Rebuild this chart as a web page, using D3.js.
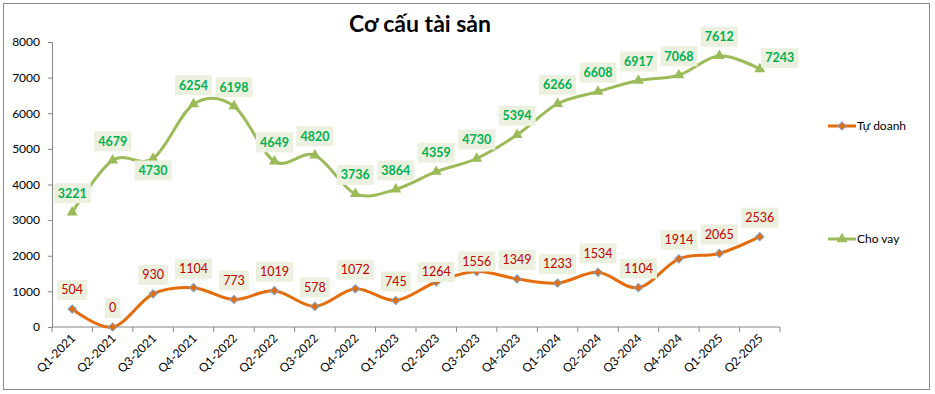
<!DOCTYPE html>
<html>
<head>
<meta charset="utf-8">
<script src="https://cdn.jsdelivr.net/npm/d3@7"></script>
<style>
  body { margin: 0; background: #fff; }
  svg { display: block; font-family: "Lato", "Liberation Sans", sans-serif; }
</style>
</head>
<body>
<svg id="chart" width="935" height="394"></svg>
<script>
//chart data
const quarters = ["Q1-2021", "Q2-2021", "Q3-2021", "Q4-2021", "Q1-2022", "Q2-2022", "Q3-2022", "Q4-2022",
    "Q1-2023", "Q2-2023", "Q3-2023", "Q4-2023", "Q1-2024", "Q2-2024", "Q3-2024", "Q4-2024", "Q1-2025", "Q2-2025"];
const tuDoanh = [504, 0, 930, 1104, 773, 1019, 578, 1072, 745, 1264, 1556, 1349, 1233, 1534, 1104, 1914, 2065, 2536];
const choVay = [3221, 4679, 4730, 6254, 6198, 4649, 4820, 3736, 3864, 4359, 4730, 5394, 6266, 6608, 6917, 7068, 7612, 7243];
const yTicks = [0, 1000, 2000, 3000, 4000, 5000, 6000, 7000, 8000];
const seriesNames = ["Tự doanh", "Cho vay"];

//where each data label sits relative to its point
const tuDoanhLabelPos = ["t", "t", "t", "t", "t", "t", "t", "t", "t", "n", "n", "t", "t", "t", "t", "t", "t", "t"];
const choVayLabelPos = ["t", "t", "b", "t", "t", "t", "t", "t", "t", "t", "t", "t", "t", "t", "t", "t", "t", "r"];

//plot area
const plot = { left: 52, right: 780, top: 42, bottom: 327 };

const svg = d3.select("#chart");

//outer frame
svg.append("rect")
    .attr("x", 3.5).attr("y", 3.5)
    .attr("width", 926).attr("height", 386)
    .attr("fill", "#fff")
    .attr("stroke", "#8c8c8c");

//title
svg.append("text")
    .attr("x", 420).attr("y", 32)
    .attr("text-anchor", "middle")
    .attr("font-size", 23)
    .attr("font-weight", "bold")
    .attr("fill", "#000")
    .text("Cơ cấu tài sản");

const x = d3.scaleBand()
    .domain(quarters)
    .range([plot.left, plot.right]);
const y = d3.scaleLinear()
    .domain([0, 8000])
    .range([plot.bottom, plot.top]);
const cx = d => x(d) + x.bandwidth() / 2;

//y axis
const yAxis = svg.append("g")
    .attr("transform", `translate(${plot.left},0)`)
    .call(d3.axisLeft(y).tickValues(yTicks).tickSize(4).tickPadding(8).tickFormat(d3.format("d")));
yAxis.selectAll("text").attr("font-size", 12).attr("fill", "#000").attr("font-family", "Lato, sans-serif");
yAxis.selectAll("line, path").attr("stroke", "#868686");

//x axis, ticks between categories
const xAxis = svg.append("g")
    .attr("transform", `translate(0,${plot.bottom})`);
xAxis.append("line")
    .attr("x1", plot.left).attr("x2", plot.right)
    .attr("stroke", "#868686");
xAxis.selectAll(".tk")
    .data(d3.range(quarters.length + 1))
    .join("line")
    .attr("x1", i => plot.left + i * x.bandwidth())
    .attr("x2", i => plot.left + i * x.bandwidth())
    .attr("y1", 0).attr("y2", 5)
    .attr("stroke", "#868686");
xAxis.selectAll(".lbl")
    .data(quarters)
    .join("text")
    .attr("transform", d => `translate(${cx(d) + 4},${12}) rotate(-45)`)
    .attr("text-anchor", "end")
    .attr("font-size", 12)
    .attr("fill", "#000")
    .text(d => d);

const line = d3.line()
    .x((d, i) => cx(quarters[i]))
    .y(d => y(d))
    .curve(d3.curveCatmullRom.alpha(0));

//lines
svg.append("path")
    .datum(choVay)
    .attr("d", line)
    .attr("fill", "none")
    .attr("stroke", "#9bbb59")
    .attr("stroke-width", 3);
svg.append("path")
    .datum(tuDoanh)
    .attr("d", line)
    .attr("fill", "none")
    .attr("stroke", "#e46c0a")
    .attr("stroke-width", 3);

//markers (diamond = square turned 45 degrees)
const tri = d3.symbol().type(d3.symbolTriangle).size(52);
const dia = d3.symbol().type(d3.symbolSquare).size(34);
svg.selectAll(".cv")
    .data(choVay)
    .join("path")
    .attr("transform", (d, i) => `translate(${cx(quarters[i])},${y(d)})`)
    .attr("d", tri)
    .attr("fill", "#9bbb59");
svg.selectAll(".td")
    .data(tuDoanh)
    .join("path")
    .attr("transform", (d, i) => `translate(${cx(quarters[i])},${y(d)}) rotate(45)`)
    .attr("d", dia)
    .attr("fill", "#e46c0a")
    .attr("stroke", "#7f9fc9")
    .attr("stroke-width", 1);

//data labels with boxes
function addLabels(values, pos, color, weight) {
    const g = svg.append("g");
    values.forEach((v, i) => {
        let lx = cx(quarters[i]), ly = y(v) - 19;
        if (pos[i] === "b") ly = y(v) + 12;
        if (pos[i] === "n") ly = y(v) - 10;
        if (pos[i] === "r") { lx += 20; ly = y(v) - 11; }
        const lg = g.append("g").attr("transform", `translate(${lx},${ly})`);
        const t = lg.append("text")
            .attr("text-anchor", "middle")
            .attr("dy", "0.35em")
            .attr("font-size", 12.5)
            .attr("font-weight", weight)
            .attr("fill", color)
            .text(v);
        const w = t.node().getComputedTextLength() + 8;
        lg.insert("rect", "text")
            .attr("x", -w / 2).attr("y", -10)
            .attr("width", w).attr("height", 20)
            .attr("fill", "#ebf1de");
    });
}
addLabels(choVay, choVayLabelPos, "#00b050", "bold");
addLabels(tuDoanh, tuDoanhLabelPos, "#c00000", "normal");

//legend
const legend = svg.append("g");
const legendY = [126, 239];
const legendColors = ["#e46c0a", "#9bbb59"];
seriesNames.forEach((name, i) => {
    const lg = legend.append("g").attr("transform", `translate(828,${legendY[i]})`);
    lg.append("line")
        .attr("x1", 0).attr("x2", 28)
        .attr("stroke", legendColors[i])
        .attr("stroke-width", 3);
    lg.append("path")
        .attr("transform", i === 0 ? "translate(14,0) rotate(45)" : "translate(14,0)")
        .attr("d", i === 0 ? dia : tri)
        .attr("fill", legendColors[i])
        .attr("stroke", i === 0 ? "#7f9fc9" : "none");
    lg.append("text")
        .attr("x", 29).attr("dy", "0.35em")
        .attr("font-size", 12)
        .attr("fill", "#000")
        .text(name);
});
</script>
</body>
</html>
